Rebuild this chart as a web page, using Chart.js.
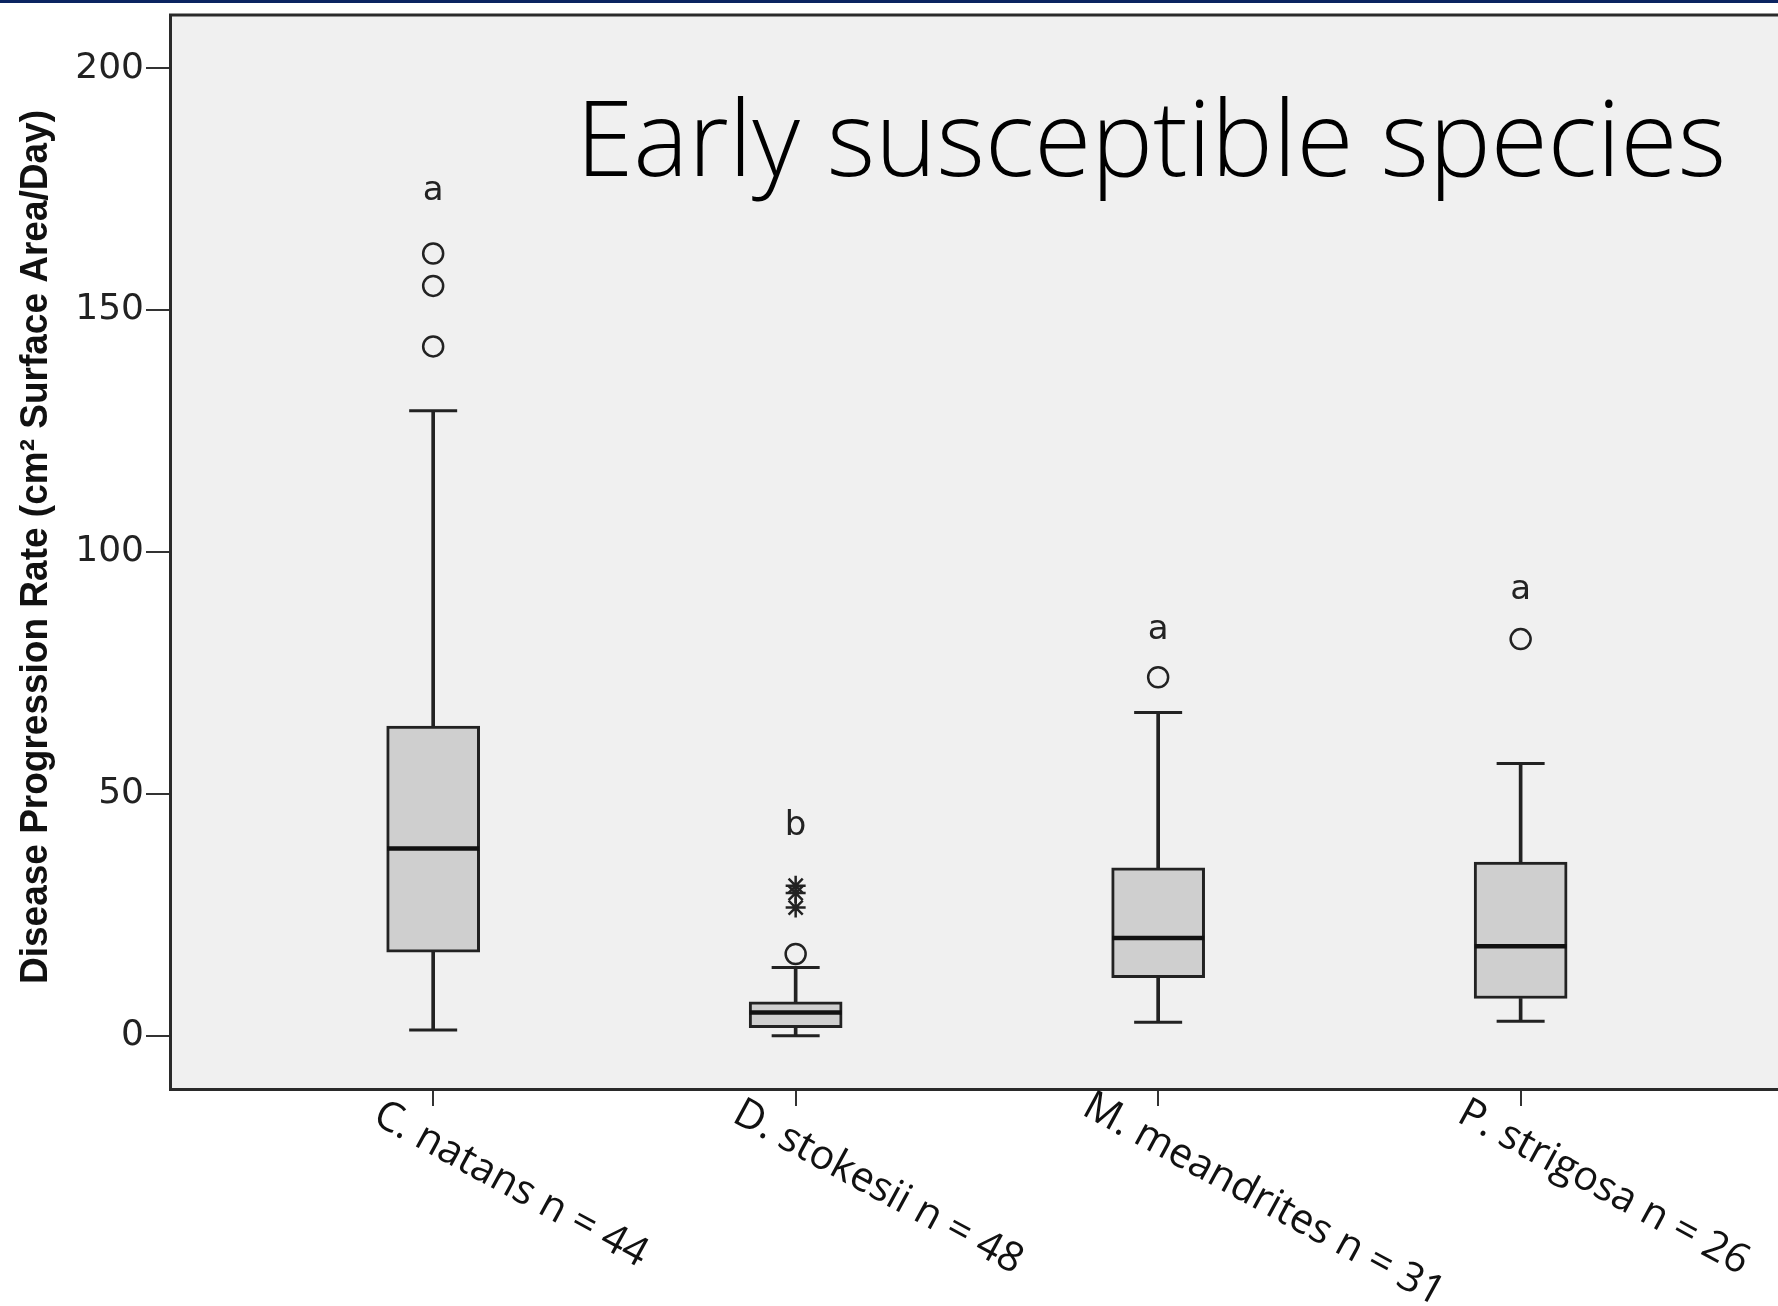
<!DOCTYPE html>
<html>
<head>
<meta charset="utf-8">
<script src="https://cdn.jsdelivr.net/npm/chart.js@4.4.1/dist/chart.umd.min.js"></script>
<style>
  html, body { margin: 0; padding: 0; background: #fff; }
  canvas { display: block; }
</style>
</head>
<body>
<canvas id="box-chart" width="1778" height="1306"></canvas>
<script>
// chart values
var TITLE = 'Early susceptible species';
var Y_TITLE = 'Disease Progression Rate (cm\u00b2 Surface Area/Day)';
var categories = ['C. natans n = 44', 'D. stokesii n = 48', 'M. meandrites n = 31', 'P. strigosa n = 26'];
var whiskerLow = [1.2, 0.0, 2.8, 3.0];
var q1 = [17.3, 1.7, 12.0, 7.7];
var medians = [38.7, 4.8, 20.2, 18.5];
var q3 = [64.0, 7.0, 34.7, 35.9];
var whiskerHigh = [129.2, 14.1, 66.8, 56.3];
var outliers = [[161.7, 155.0, 142.5], [16.9], [74.1], [82.0]];
var extremes = [[], [31.0, 29.5, 26.5], [], []];
var groupLetters = ['a', 'b', 'a', 'a'];
var letterY = [174.6, 43.4, 83.9, 92.1];
var yTicks = [0, 50, 100, 150, 200];

function points(values) {
	return values.map(function(v, i) { return {x: i + 1, y: v}; });
}

function flatPoints(groups) {
	var out = [];
	for (var i = 0; i < groups.length; i++) {
		for (var j = 0; j < groups[i].length; j++) {
			out.push({x: i + 1, y: groups[i][j]});
		}
	}
	return out;
}

function floating(lo, hi) {
	return lo.map(function(v, i) { return {x: i + 1, y: [v, hi[i]]}; });
}

function noPadding(scale) {
	scale.paddingTop = 0;
	scale.paddingBottom = 0;
	scale.paddingLeft = 0;
	scale.paddingRight = 0;
}

var decor = {
	id: 'decor',
	beforeDraw: function(chart) {
		var ctx = chart.ctx, a = chart.chartArea;
		ctx.save();
		ctx.fillStyle = '#ffffff';
		ctx.fillRect(0, 0, chart.width, chart.height);
		ctx.fillStyle = '#f0f0f0';
		ctx.fillRect(a.left, a.top, a.right - a.left, a.bottom - a.top);
		// navy strip of the slide
		ctx.fillStyle = '#0b2461';
		ctx.fillRect(0, 0, chart.width, 3);
		ctx.restore();
	},
	afterDraw: function(chart) {
		var ctx = chart.ctx, a = chart.chartArea;
		var xs = chart.scales.x, ys = chart.scales.y;
		ctx.save();

		// top frame line
		ctx.strokeStyle = '#2a2a2a';
		ctx.lineWidth = 3;
		ctx.beginPath();
		ctx.moveTo(a.left - 1, a.top);
		ctx.lineTo(a.right, a.top);
		ctx.stroke();

		// group letters
		ctx.fillStyle = '#222';
		ctx.font = '34px "DejaVu Sans"';
		ctx.textAlign = 'center';
		ctx.textBaseline = 'middle';
		for (var i = 0; i < groupLetters.length; i++) {
			ctx.fillText(groupLetters[i], xs.getPixelForValue(i + 1), ys.getPixelForValue(letterY[i]));
		}

		// y axis title, narrow bold
		ctx.save();
		ctx.font = 'bold 38px "Liberation Sans"';
		ctx.fillStyle = '#111';
		var yw = ctx.measureText(Y_TITLE).width;
		ctx.translate(37, 547);
		ctx.rotate(-Math.PI / 2);
		ctx.scale(874 / yw, 1);
		ctx.fillText(Y_TITLE, 0, 0);
		ctx.restore();

		// rotated category labels
		ctx.font = '41px "Open Sans"';
		ctx.textAlign = 'left';
		ctx.textBaseline = 'alphabetic';
		ctx.fillStyle = '#111';
		var angle = 28.5 * Math.PI / 180;
		for (var k = 0; k < categories.length; k++) {
			var w = ctx.measureText(categories[k]).width;
			ctx.save();
			ctx.translate(xs.getPixelForValue(k + 1), a.bottom + 34);
			ctx.rotate(angle);
			ctx.fillText(categories[k], -0.18 * w, 29);
			ctx.restore();
		}

		// slide title, squeezed to a Calibri-like width
		ctx.font = '300 106px "Open Sans"';
		ctx.fillStyle = '#000';
		ctx.textAlign = 'left';
		var tw = ctx.measureText(TITLE).width;
		ctx.translate(576, 176);
		ctx.scale(1150 / tw, 1);
		ctx.fillText(TITLE, 0, 0);
		ctx.restore();
	}
};

var ctx = document.getElementById('box-chart').getContext('2d');

var chart = new Chart(ctx, {
	type: 'bar',
	data: {
		datasets: [{
			type: 'scatter',
			data: flatPoints(outliers),
			pointStyle: 'circle',
			radius: 10,
			backgroundColor: '#f0f0f0',
			borderColor: '#222',
			borderWidth: 2.5,
			order: 0
		}, {
			type: 'scatter',
			data: flatPoints(extremes),
			pointStyle: 'star',
			radius: 10,
			borderColor: '#222',
			borderWidth: 2.5,
			order: 0
		}, {
			// medians
			type: 'scatter',
			data: points(medians),
			pointStyle: 'line',
			radius: 46,
			borderColor: '#111',
			borderWidth: 4.5,
			order: 1
		}, {
			// boxes
			data: floating(q1, q3),
			backgroundColor: '#cfcfcf',
			borderColor: '#222',
			borderWidth: 3,
			borderSkipped: false,
			barThickness: 93,
			grouped: false,
			order: 2
		}, {
			// whisker caps
			type: 'scatter',
			data: points(whiskerLow).concat(points(whiskerHigh)),
			pointStyle: 'line',
			radius: 24,
			borderColor: '#222',
			borderWidth: 3,
			order: 3
		}, {
			data: floating(whiskerLow, q1),
			backgroundColor: '#222',
			borderWidth: 0,
			barThickness: 3,
			grouped: false,
			order: 4
		}, {
			data: floating(q3, whiskerHigh),
			backgroundColor: '#222',
			borderWidth: 0,
			barThickness: 3,
			grouped: false,
			order: 4
		}]
	},
	options: {
		responsive: false,
		devicePixelRatio: 1,
		animation: false,
		layout: {autoPadding: false, padding: {top: 15, left: 0, right: 0, bottom: 0}},
		plugins: {
			legend: {display: false},
			tooltip: {enabled: false}
		},
		scales: {
			x: {
				type: 'linear',
				offset: false,
				min: 0.274,
				max: 4.71,
				afterBuildTicks: function(scale) {
					scale.ticks = categories.map(function(c, i) { return {value: i + 1}; });
				},
				afterFit: function(scale) { scale.height = 217; noPadding(scale); },
				ticks: {display: false},
				grid: {offset: false, drawOnChartArea: false, drawTicks: true, tickLength: 17, color: '#333', lineWidth: 2},
				border: {display: true, color: '#2a2a2a', width: 3}
			},
			y: {
				type: 'linear',
				min: -11,
				max: 211,
				afterBuildTicks: function(scale) {
					scale.ticks = yTicks.map(function(v) { return {value: v}; });
				},
				afterFit: function(scale) { scale.width = 170; noPadding(scale); },
				ticks: {
					font: {family: '"DejaVu Sans"', size: 36},
					color: '#222',
					padding: 2
				},
				grid: {drawOnChartArea: false, drawTicks: true, tickLength: 24, color: '#333', lineWidth: 2},
				border: {display: true, color: '#2a2a2a', width: 3}
			}
		}
	},
	plugins: [decor]
});
</script>
</body>
</html>
